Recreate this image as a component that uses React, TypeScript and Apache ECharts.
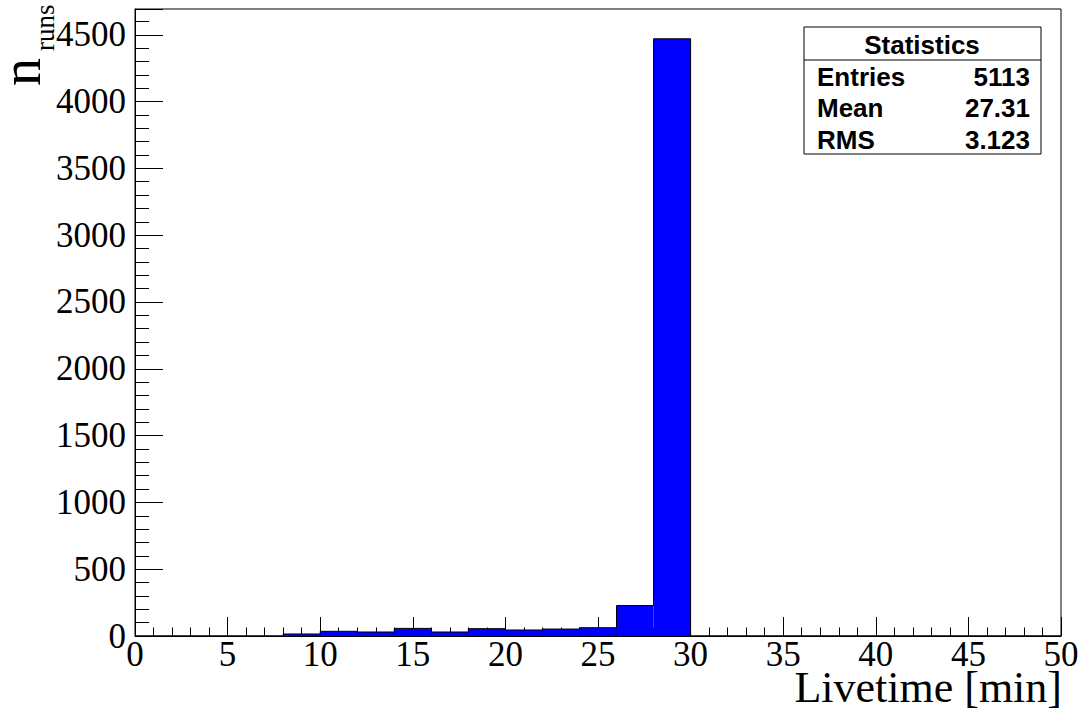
import React, { useEffect, useRef } from "react";
import * as echarts from "echarts";

// Histogram bins (width 2 min), lower edges and counts
const binStarts = [0, 2, 4, 6, 8, 10, 12, 14, 16, 18, 20, 22, 24, 26, 28, 30, 32, 34, 36, 38, 40, 42, 44, 46, 48];
const binWidth = 2;
const counts = [0, 0, 0, 0, 15, 35, 30, 57, 30, 55, 45, 52, 62, 228, 4470, 0, 0, 0, 0, 0, 0, 0, 0, 0, 0];

const xTicks = [0, 5, 10, 15, 20, 25, 30, 35, 40, 45, 50];
const yMax = 4693;

const statsTitle = "Statistics";
const statsLabels = ["Entries", "Mean", "RMS"];
const statsValues = ["5113", "27.31", "3.123"];

const xTitle = "Livetime [min]";
const yTitleMain = "n";
const yTitleSub = "runs";

export default function App() {
  const ref = useRef<HTMLDivElement>(null);
  useEffect(() => {
    if (!ref.current) return;
    const chart = echarts.init(ref.current, null, { renderer: "svg" });
    const serif = "Liberation Serif";
    const sans = "Liberation Sans";
    const data = binStarts.map((s, i) => [s, s + binWidth, counts[i], i > 0 ? counts[i - 1] : 0]);

    const statsRows: any[] = [];
    const rowY = [77, 108, 140];
    statsLabels.forEach((l, i) => {
      statsRows.push({
        type: "text",
        x: 817,
        y: rowY[i],
        style: { text: l, font: `bold 26px ${sans}`, fill: "#000", align: "left", verticalAlign: "middle" },
        z: 100,
      });
      statsRows.push({
        type: "text",
        x: 1030,
        y: rowY[i],
        style: { text: statsValues[i], font: `bold 26px ${sans}`, fill: "#000", align: "right", verticalAlign: "middle" },
        z: 100,
      });
    });

    chart.setOption({
      animation: false,
      grid: {
        left: 135,
        right: 21,
        top: 9,
        bottom: 79,
        show: true,
        borderColor: "#000",
        borderWidth: 1,
        backgroundColor: "transparent",
      },
      xAxis: {
        type: "value",
        min: xTicks[0],
        max: xTicks[xTicks.length - 1],
        interval: 5,
        axisLine: { show: true, lineStyle: { color: "#000", width: 1 } },
        axisTick: { show: true, inside: true, length: 19, lineStyle: { color: "#000", width: 1 } },
        minorTick: { show: true, splitNumber: 5, length: 8.5, lineStyle: { color: "#000", width: 1 } },
        splitLine: { show: false },
        axisLabel: { fontSize: 35, fontFamily: serif, color: "#000", margin: 1 },
      },
      yAxis: [
        {
          type: "value",
          min: 0,
          max: yMax,
          interval: 100,
          position: "left",
          axisLine: { show: true, lineStyle: { color: "#000", width: 1 } },
          axisTick: { show: true, inside: true, length: 14, lineStyle: { color: "#000", width: 1 } },
          splitLine: { show: false },
          axisLabel: {
            fontSize: 35,
            fontFamily: serif,
            color: "#000",
            margin: 9,
            formatter: (v: number) => (v % 500 === 0 ? String(v) : ""),
          },
        },
        {
          type: "value",
          min: 0,
          max: yMax,
          interval: 500,
          position: "left",
          offset: 0,
          axisLine: { show: false },
          axisTick: { show: true, inside: true, length: 28, lineStyle: { color: "#000", width: 1 } },
          splitLine: { show: false },
          axisLabel: { show: false },
        },
      ],
      series: [
        {
          type: "custom",
          xAxisIndex: 0,
          yAxisIndex: 0,
          clip: true,
          data,
          encode: { x: [0, 1], y: 2 },
          renderItem: (params: any, api: any) => {
            const x0 = api.value(0);
            const x1 = api.value(1);
            const y = api.value(2);
            const prev = api.value(3);
            const pTop = api.coord([x0, y]);
            const pBot = api.coord([x1, 0]);
            const pPrev = api.coord([x0, prev]);
            const children: any[] = [];
            if (y > 0) {
              children.push({
                type: "rect",
                shape: { x: pTop[0], y: pTop[1], width: pBot[0] - pTop[0], height: pBot[1] - pTop[1] },
                style: { fill: "#0000ff" },
              });
            }
            children.push({
              type: "polyline",
              shape: { points: [[pTop[0], pPrev[1]], [pTop[0], pTop[1]], [pBot[0], pTop[1]]] },
              style: { stroke: "#000", lineWidth: 1, fill: "none" },
              z2: 10,
            });
            return { type: "group", children };
          },
        },
      ],
      graphic: [
        {
          type: "text",
          x: 1062,
          y: 687,
          style: { text: xTitle, font: `44px ${serif}`, fill: "#000", align: "right", verticalAlign: "middle" },
        },
        {
          type: "group",
          x: 49,
          y: 86,
          rotation: Math.PI / 2,
          children: [
            {
              type: "text",
              x: 0,
              y: 0,
              style: { text: yTitleMain, font: `56px ${serif}`, fill: "#000", align: "left", verticalAlign: "bottom" },
            },
            {
              type: "text",
              x: 35,
              y: 9,
              style: { text: yTitleSub, font: `27px ${serif}`, fill: "#000", align: "left", verticalAlign: "bottom" },
            },
          ],
        },
        {
          type: "rect",
          shape: { x: 804, y: 27, width: 237, height: 127 },
          style: { fill: "#fff", stroke: "#000", lineWidth: 1 },
          z: 99,
        },
        {
          type: "line",
          shape: { x1: 804, y1: 60, x2: 1041, y2: 60 },
          style: { stroke: "#000", lineWidth: 1 },
          z: 100,
        },
        {
          type: "text",
          x: 922,
          y: 45,
          style: { text: statsTitle, font: `bold 26px ${sans}`, fill: "#000", align: "center", verticalAlign: "middle" },
          z: 100,
        },
        ...statsRows,
      ],
    });
    return () => chart.dispose();
  }, []);
  return <div ref={ref} style={{ position: "absolute", left: 0, top: 0, width: 1082, height: 715, background: "#fff" }} />;
}
